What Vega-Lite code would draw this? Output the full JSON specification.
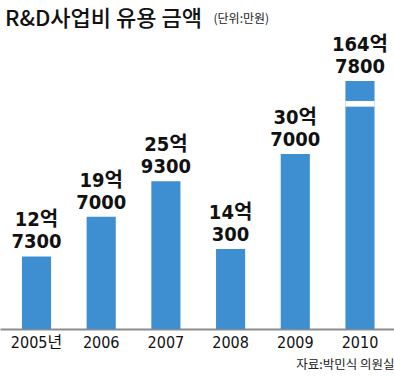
{
  "$schema": "https://vega.github.io/schema/vega-lite/v6.json",
  "width": 394,
  "height": 248,
  "autosize": {"type": "none"},
  "padding": {"left": 0, "right": 0, "top": 81, "bottom": 57},
  "background": "white",
  "title": {
    "text": "R&D사업비 유용 금액",
    "anchor": "start",
    "frame": "group",
    "font": "Noto Sans CJK KR",
    "fontSize": 22,
    "fontWeight": 500,
    "color": "#111111",
    "baseline": "alphabetic",
    "offset": -36,
    "dx": 5
  },
  "data": {
    "values": [
      {"year": "2005년", "amount": 127300, "label": ["12억", "7300"]},
      {"year": "2006", "amount": 197000, "label": ["19억", "7000"]},
      {"year": "2007", "amount": 259300, "label": ["25억", "9300"]},
      {"year": "2008", "amount": 140300, "label": ["14억", "300"]},
      {"year": "2009", "amount": 307000, "label": ["30억", "7000"]},
      {"year": "2010", "amount": 1647800, "label": ["164억", "7800"]}
    ]
  },
  "layer": [
    {
      "mark": {"type": "bar", "color": "#3d8fd2"},
      "encoding": {
        "x": {
          "field": "year",
          "type": "nominal",
          "sort": null,
          "scale": {"paddingInner": 0.55, "paddingOuter": 0.32, "align": 0.53},
          "axis": {
            "title": "자료:박민식 의원실",
            "titleAnchor": "end",
            "titleFont": "Noto Sans CJK KR",
            "titleFontSize": 12.5,
            "titleFontWeight": "normal",
            "titleColor": "#222222",
            "titlePadding": 8,
            "labelFont": "DejaVu Sans Condensed, Liberation Sans Narrow, Noto Sans CJK KR",
            "labelFontSize": 16,
            "labelColor": "#111111",
            "labelAngle": 0,
            "labelPadding": 5,
            "ticks": false,
            "domainColor": "#8c8c8c",
            "domainWidth": 2,
            "grid": false
          }
        },
        "y": {
          "field": "amount",
          "type": "quantitative",
          "scale": {"domain": [0, 435000], "clamp": true, "nice": false, "zero": true},
          "axis": {
            "title": "(단위:만원)",
            "titleAngle": 0,
            "titleX": 213,
            "titleY": -63,
            "titleAlign": "left",
            "titleBaseline": "middle",
            "titleFont": "Noto Sans CJK KR",
            "titleFontSize": 12,
            "titleFontWeight": "normal",
            "titleColor": "#222222",
            "labels": false,
            "ticks": false,
            "domain": false,
            "grid": false
          }
        }
      }
    },
    {
      "mark": {
        "type": "text",
        "font": "DejaVu Sans Condensed, Liberation Sans Narrow, Noto Sans CJK KR",
        "fontSize": 20,
        "fontWeight": "bold",
        "color": "#111111",
        "baseline": "bottom",
        "lineHeight": 22,
        "dy": -26
      },
      "encoding": {
        "x": {"field": "year", "type": "nominal", "sort": null},
        "y": {"field": "amount", "type": "quantitative"},
        "text": {"field": "label"}
      }
    },
    {
      "transform": [{"filter": "datum.year == '2010'"}],
      "mark": {"type": "bar", "color": "white"},
      "encoding": {
        "x": {"field": "year", "type": "nominal", "sort": null},
        "y": {"datum": 390000},
        "y2": {"datum": 400000}
      }
    }
  ],
  "config": {"view": {"stroke": null}}
}
